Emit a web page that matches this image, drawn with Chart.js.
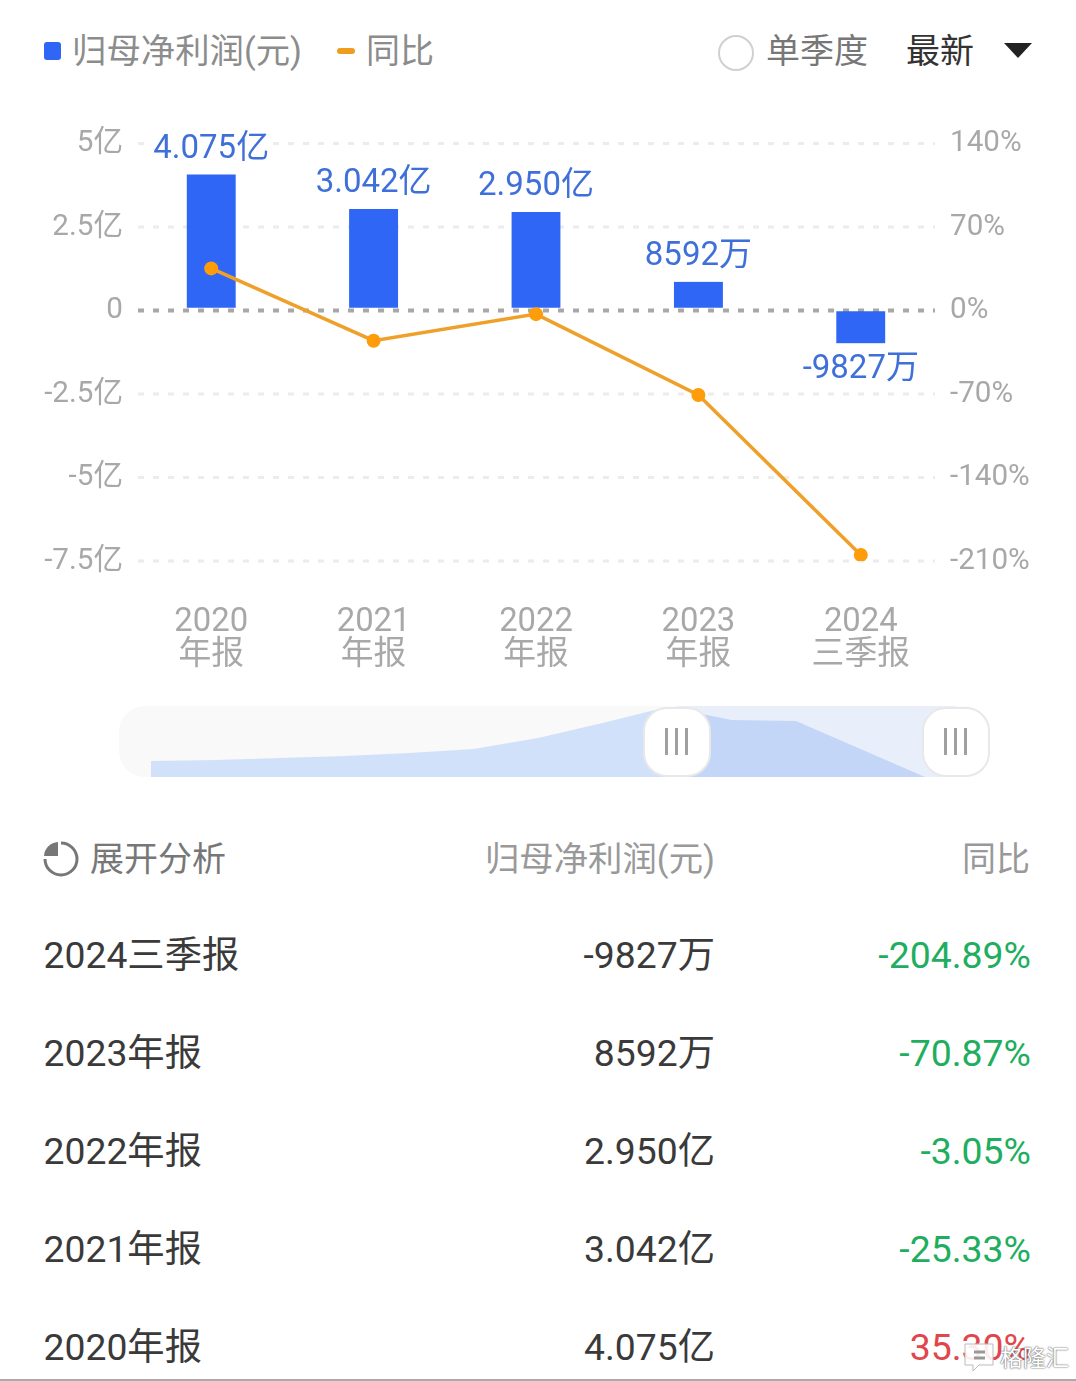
<!DOCTYPE html>
<html lang="zh">
<head>
<meta charset="utf-8">
<title>归母净利润</title>
<script src="https://cdn.jsdelivr.net/npm/chart.js@4"></script>
<style>
html, body { margin: 0; padding: 0; background: #fff; }
#page { position: relative; width: 1076px; height: 1381px; overflow: hidden; background: #fff;
  font-family: Roboto, "Noto Sans CJK SC", sans-serif; }
.txt { position: absolute; white-space: nowrap; line-height: 1; transform: translateY(-50%); }
.r { text-align: right; }
#chartBox { position: absolute; left: 0; top: 100px; width: 1076px; height: 590px; }
#navTrack { position: absolute; left: 119px; top: 706px; width: 871px; height: 71px; background: #f9f9fa; border-radius: 26px; overflow: hidden; }
#navBand { position: absolute; left: 558px; top: 0; width: 278px; height: 71px; background: #e8eefa; }
#navBox { position: absolute; left: 151px; top: 700px; width: 774px; height: 77px; }
.handle { position: absolute; top: 707px; width: 64px; height: 66px; background: #fff; border: 2px solid #e8e8e8; border-radius: 24px; }
.handle i { position: absolute; top: 19px; width: 3px; height: 27px; background: #a0a0a0; }
#bottomLine { position: absolute; left: 0; top: 1379px; width: 1076px; height: 2px; background: #aaa; }
</style>
</head>
<body>
<div id="page">
  <div style="position:absolute;left:44px;top:42px;width:17px;height:18px;background:#2f66f6;border-radius:3px"></div>
  <div class="txt" id="legendProfit" style="left:72px;top:51px;font-size:34.4px;color:#8c8c8c"></div>
  <div style="position:absolute;left:337px;top:48px;width:18px;height:6px;background:#f09c1f;border-radius:3px"></div>
  <div class="txt" id="legendYoy" style="left:366px;top:51px;font-size:34px;color:#8c8c8c"></div>
  <div style="position:absolute;left:718px;top:35px;width:32px;height:32px;border:2px solid #d0d0d0;border-radius:50%"></div>
  <div class="txt" style="left:766px;top:51px;font-size:34px;color:#777">单季度</div>
  <div class="txt" style="left:906px;top:51px;font-size:34px;color:#333">最新</div>
  <div style="position:absolute;left:1004px;top:43px;width:0;height:0;border-left:14px solid transparent;border-right:14px solid transparent;border-top:15px solid #222"></div>

  <div id="chartBox"><canvas id="mainChart"></canvas></div>

  <div id="navTrack"><div id="navBand"></div></div>
  <div id="navBox"><canvas id="navChart"></canvas></div>
  <div class="handle" style="left:643px"><i style="left:20px"></i><i style="left:30px"></i><i style="left:40px"></i></div>
  <div class="handle" style="left:922px"><i style="left:20px"></i><i style="left:30px"></i><i style="left:40px"></i></div>

  <svg style="position:absolute;left:42px;top:840px" width="38" height="38" viewBox="0 0 38 38">
    <path d="M19 3 A16 16 0 1 1 3 19" fill="none" stroke="#777" stroke-width="3"/>
    <path d="M16 2 V16 H2 A15 15 0 0 1 16 2 Z" fill="#777"/>
  </svg>
  <div class="txt" style="left:90px;top:859px;font-size:34px;color:#777">展开分析</div>
  <div class="txt r" id="headProfit" style="right:361px;top:859px;font-size:34.4px;color:#999"></div>
  <div class="txt r" id="headYoy" style="right:46px;top:859px;font-size:34px;color:#999"></div>
  <div id="rows"></div>

  <svg style="position:absolute;left:962px;top:1341px" width="36" height="32" viewBox="0 0 36 32">
    <path d="M3 3 H31 V24 H17 L11 30 V24 H3 Z" fill="#fff" fill-opacity="0.9" stroke="#bbb" stroke-width="1"/>
    <path d="M12 11 H23 M12 17 H23" fill="none" stroke="#999" stroke-width="3"/>
  </svg>
  <div class="txt" style="left:1000px;top:1358px;font-size:23px;color:#fff;text-shadow:0 0 2px #666,0 0 1px #666">格隆汇</div>
  <div id="bottomLine"></div>
</div>

<script>
const categories = [["2020", "年报"], ["2021", "年报"], ["2022", "年报"], ["2023", "年报"], ["2024", "三季报"]];
const profitValues = [4.075, 3.042, 2.950, 0.8592, -0.9827];
const profitLabels = ["4.075亿", "3.042亿", "2.950亿", "8592万", "-9827万"];
const yoyValues = [35.30, -25.33, -3.05, -70.87, -204.89];
const yoyLabels = ["35.30%", "-25.33%", "-3.05%", "-70.87%", "-204.89%"];

const leftTicks = [5, 2.5, 0, -2.5, -5, -7.5];
const leftTickLabels = ["5亿", "2.5亿", "0", "-2.5亿", "-5亿", "-7.5亿"];
const rightTicks = [140, 70, 0, -70, -140, -210];
const rightTickLabels = ["140%", "70%", "0%", "-70%", "-140%", "-210%"];

const rowPeriods = ["2024三季报", "2023年报", "2022年报", "2021年报", "2020年报"];

const overviewLabels = ["1", "2", "3", "4", "5", "6", "7", "8", "9", "10", "11", "12", "13"];
const overviewValues = [16, 17, 19, 21, 24, 28, 39, 54, 70, 57, 56, 28, 0];

const profitName = "归母净利润(元)";
const yoyName = "同比";

document.getElementById("legendProfit").textContent = profitName;
document.getElementById("legendYoy").textContent = yoyName;
document.getElementById("headProfit").textContent = profitName;
document.getElementById("headYoy").textContent = yoyName;

// table rows, newest first
let rows = document.getElementById("rows");
rowPeriods.forEach((period, i) => {
    let idx = rowPeriods.length - 1 - i;
    let top = 956 + i * 98;
    let color = yoyValues[idx] < 0 ? "#1fae5f" : "#e0474c";
    rows.innerHTML +=
        `<div class="txt" style="left:43.5px;top:${top}px;font-size:37.3px;color:#3a3a3a">${period}</div>` +
        `<div class="txt r" style="right:361px;top:${top}px;font-size:37.3px;color:#3a3a3a">${profitLabels[idx]}</div>` +
        `<div class="txt r" style="right:45px;top:${top}px;font-size:37.4px;color:${color}">${yoyLabels[idx]}</div>`;
});

const fontFamily = 'Roboto, "Noto Sans CJK SC", sans-serif';

// dashed grid lines that stop short of the plot edges
const gridPlugin = {
    id: "gridPlugin",
    beforeDatasetsDraw(chart) {
        let ctx = chart.ctx;
        let area = chart.chartArea;
        let scale = chart.scales.y;
        ctx.save();
        leftTicks.forEach(tick => {
            let y = scale.getPixelForValue(tick);
            ctx.beginPath();
            ctx.lineWidth = tick === 0 ? 4 : 3;
            ctx.strokeStyle = tick === 0 ? "#a8a8a8" : "#ececec";
            ctx.setLineDash([6, 9]);
            ctx.moveTo(area.left + 8, y);
            ctx.lineTo(area.right - 7, y);
            ctx.stroke();
        });
        ctx.restore();
    }
};

// value labels above the bars, with a white patch over the grid
const barLabelPlugin = {
    id: "barLabelPlugin",
    afterDatasetsDraw(chart) {
        let ctx = chart.ctx;
        let bars = chart.getDatasetMeta(1).data;
        ctx.save();
        ctx.font = "33px " + fontFamily;
        ctx.textAlign = "center";
        ctx.textBaseline = "middle";
        bars.forEach((bar, i) => {
            let y = profitValues[i] < 0 ? bar.y + 26 : bar.y - 25;
            let w = ctx.measureText(profitLabels[i]).width + 8;
            ctx.fillStyle = "#fff";
            ctx.fillRect(bar.x - w / 2, y - 17, w, 34);
            ctx.fillStyle = "#3f6fd9";
            ctx.fillText(profitLabels[i], bar.x, y);
        });
        ctx.restore();
    }
};

// the y tick labels sit a little below their grid lines
const tickNudgePlugin = {
    id: "tickNudgePlugin",
    afterLayout(chart) {
        [chart.scales.y, chart.scales.y2].forEach(scale => {
            if (scale.nudged) return;
            scale.nudged = true;
            let drawLabels = scale.drawLabels;
            scale.drawLabels = function (area) {
                this.ctx.save();
                this.ctx.translate(0, 0.5);
                drawLabels.call(this, area);
                this.ctx.restore();
            };
        });
    }
};

new Chart(document.getElementById("mainChart"), {
    type: "bar",
    plugins: [gridPlugin, barLabelPlugin, tickNudgePlugin],
    data: {
        labels: categories,
        datasets: [
            {
                type: "line",
                label: yoyName,
                data: yoyValues,
                yAxisID: "y2",
                order: 1,
                borderColor: "#efa02a",
                borderWidth: 3.5,
                tension: 0,
                pointRadius: 7,
                pointBackgroundColor: "#ff9c0a",
                pointBorderColor: "#ff9c0a",
                pointBorderWidth: 0
            },
            {
                type: "bar",
                label: profitName,
                data: profitValues,
                yAxisID: "y",
                order: 2,
                backgroundColor: "#2f66f6",
                barThickness: 49,
                borderSkipped: false,
                borderColor: "rgba(0,0,0,0)",
                borderWidth: ctx => profitValues[ctx.dataIndex] < 0
                    ? { top: 1, bottom: 0, left: 0, right: 0 }
                    : { top: 0, bottom: 3, left: 0, right: 0 }
            }
        ]
    },
    options: {
        responsive: true,
        maintainAspectRatio: false,
        animation: false,
        layout: { padding: { top: 43.5, bottom: 0, left: 0, right: 0 } },
        plugins: { legend: { display: false }, tooltip: { enabled: false } },
        scales: {
            x: {
                grid: { display: false },
                border: { display: false },
                afterFit(scale) { scale.height = 129; },
                ticks: {
                    maxRotation: 0,
                    autoSkip: false,
                    padding: 37,
                    color: "#a8a8a8",
                    font: { family: fontFamily, size: 32.8, lineHeight: 1.01 }
                }
            },
            y: {
                position: "left",
                min: -7.5,
                max: 5,
                grid: { display: false, drawTicks: false },
                border: { display: false },
                afterFit(scale) { scale.width = 130; },
                ticks: {
                    stepSize: 2.5,
                    padding: 7,
                    color: "#a8a8a8",
                    font: { family: fontFamily, size: 29.6 },
                    callback: value => leftTickLabels[leftTicks.indexOf(value)]
                }
            },
            y2: {
                position: "right",
                min: -210,
                max: 140,
                grid: { display: false, drawTicks: false },
                border: { display: false },
                afterFit(scale) { scale.width = 134; },
                ticks: {
                    stepSize: 70,
                    padding: 8,
                    color: "#a8a8a8",
                    font: { family: fontFamily, size: 29.6 },
                    callback: value => rightTickLabels[rightTicks.indexOf(value)]
                }
            }
        }
    }
});

// overview area behind the range slider, darker inside the selected range
let navCanvas = document.getElementById("navChart");
let navFill = navCanvas.getContext("2d").createLinearGradient(0, 0, 774, 0);
navFill.addColorStop(0, "#d2e1fa");
navFill.addColorStop(0.68, "#d2e1fa");
navFill.addColorStop(0.68, "#c3d6f7");
navFill.addColorStop(1, "#c3d6f7");

new Chart(navCanvas, {
    type: "line",
    data: {
        labels: overviewLabels,
        datasets: [{
            data: overviewValues,
            fill: "origin",
            backgroundColor: navFill,
            borderWidth: 0,
            pointRadius: 0,
            tension: 0
        }]
    },
    options: {
        responsive: true,
        maintainAspectRatio: false,
        animation: false,
        layout: { padding: 0 },
        plugins: { legend: { display: false }, tooltip: { enabled: false } },
        scales: {
            x: { display: false, offset: false },
            y: { display: false, min: 0, max: 77 }
        }
    }
});
</script>
</body>
</html>
